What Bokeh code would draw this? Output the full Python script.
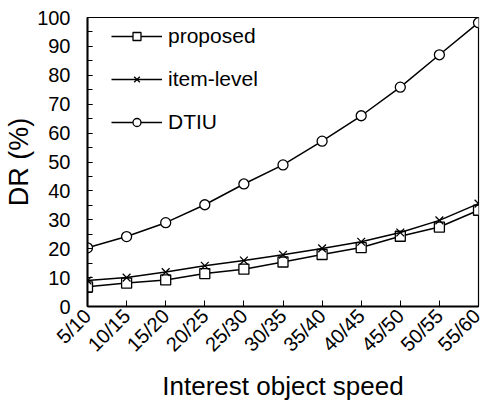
import math
from bokeh.plotting import figure
from bokeh.models import (ColumnDataSource, FixedTicker, SingleIntervalTicker,
                          Range1d, Legend, LegendItem)
from bokeh.embed import file_html
from bokeh.resources import INLINE

categories = ["5/10", "10/15", "15/20", "20/25", "25/30", "30/35",
              "35/40", "40/45", "45/50", "50/55", "55/60"]
proposed = [6.8, 8.1, 9.2, 11.4, 12.9, 15.4, 18.0, 20.4, 24.3, 27.5, 33.3]
item_level = [9.0, 10.0, 11.9, 14.1, 15.9, 17.9, 20.1, 22.4, 25.6, 29.8, 35.6]
dtiu = [20.3, 24.2, 29.0, 35.2, 42.4, 49.0, 57.2, 66.0, 75.9, 87.1, 98.2]

FONT = "Liberation Sans"
idx = list(range(len(categories)))
src = ColumnDataSource(dict(x=idx, proposed=proposed, item=item_level, dtiu=dtiu))

p = figure(width=484, height=408, output_backend="svg", toolbar_location=None,
           x_range=Range1d(0, len(categories) - 1), y_range=Range1d(0, 100),
           min_border_left=87, min_border_right=6, min_border_top=17,
           min_border_bottom=102)
p.grid.visible = False
p.outline_line_color = "black"
p.outline_line_width = 1.2
p.background_fill_color = "white"
p.border_fill_color = "white"

# lines + markers
l1 = p.line("x", "proposed", source=src, color="black", line_width=1.5)
r1 = p.scatter("x", "proposed", source=src, marker="square", size=10,
               line_color="black", fill_color="white", line_width=1.3)
l2 = p.line("x", "item", source=src, color="black", line_width=1.5)
r2 = p.scatter("x", "item", source=src, marker="x", size=11,
               line_color="black", line_width=1.3)
l3 = p.line("x", "dtiu", source=src, color="black", line_width=1.5)
r3 = p.scatter("x", "dtiu", source=src, marker="circle", size=10,
               line_color="black", fill_color="white", line_width=1.3)

# axes
xa = p.xaxis[0]
xa.ticker = FixedTicker(ticks=idx)
xa.major_label_overrides = {i: c for i, c in enumerate(categories)}
xa.major_label_orientation = math.pi / 4
xa.major_tick_in = 6
xa.major_tick_out = 0
xa.minor_tick_line_color = None
xa.axis_line_width = 2
xa.major_label_text_font = FONT
xa.major_label_text_font_size = "20px"
xa.major_label_text_color = "black"
xa.major_label_standoff = 6
xa.axis_label = "Interest object speed"
xa.axis_label_text_font = FONT
xa.axis_label_text_font_size = "26px"
xa.axis_label_text_font_style = "normal"
xa.axis_label_text_color = "black"
xa.axis_label_standoff = 5

ya = p.yaxis[0]
ya.ticker = SingleIntervalTicker(interval=10, num_minor_ticks=2)
ya.major_tick_in = 5
ya.major_tick_out = 0
ya.minor_tick_in = 5
ya.minor_tick_out = 0
ya.axis_line_width = 2
ya.major_label_text_font = FONT
ya.major_label_text_font_size = "20px"
ya.major_label_text_color = "black"
ya.major_label_standoff = 17
ya.axis_label = "DR (%)"
ya.axis_label_text_font = FONT
ya.axis_label_text_font_size = "27px"
ya.axis_label_text_font_style = "normal"
ya.axis_label_text_color = "black"
ya.axis_label_standoff = 0

legend = Legend(items=[
    LegendItem(label="proposed", renderers=[l1, r1]),
    LegendItem(label="item-level", renderers=[l2, r2]),
    LegendItem(label="DTIU", renderers=[l3, r3]),
], location=(24, 172), padding=0, margin=0, spacing=19,
    glyph_width=51, glyph_height=20, label_height=20, label_standoff=6,
    label_text_font=FONT, label_text_font_size="21px", label_text_color="black",
    border_line_color=None, background_fill_alpha=0)
p.add_layout(legend, "center")

open("out.html", "w").write(file_html(p, INLINE))
